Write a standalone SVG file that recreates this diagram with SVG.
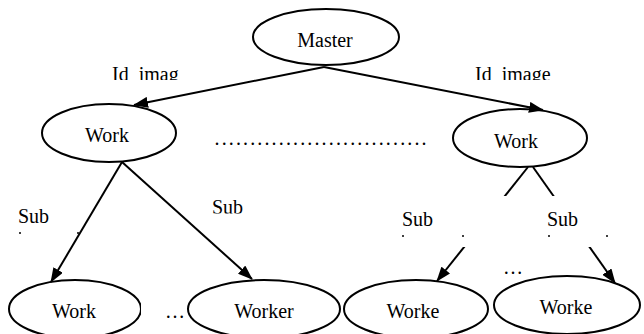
<svg xmlns="http://www.w3.org/2000/svg" width="644" height="334" viewBox="0 0 644 334" font-family="Liberation Serif, Times New Roman, serif">
<style>
.n{fill:none;stroke:#000;stroke-width:2}
.t{font-size:20px;fill:#000}
.c{stroke:#000;stroke-width:2;fill:none;marker-end:url(#ah)}
.w{fill:#fff;stroke:none}
</style>
<defs>
<marker id="ah" markerUnits="userSpaceOnUse" markerWidth="15" markerHeight="11" refX="14" refY="5.5" orient="auto">
<path d="M0,0 L15,5.5 L0,11 z" fill="#000"/>
</marker>
<clipPath id="clipTop"><rect x="0" y="55" width="644" height="25"/></clipPath>
<clipPath id="clipSubB"><rect x="0" y="190" width="644" height="23.5"/></clipPath>
<clipPath id="clipB1"><rect x="0" y="250" width="141" height="90"/></clipPath>
</defs>
<rect width="644" height="334" fill="#fff"/>
<g id="connectors">
<line class="c" x1="324" y1="67" x2="134" y2="105"/>
<line class="c" x1="324" y1="67" x2="543" y2="110"/>
<line class="c" x1="122" y1="162" x2="51" y2="282"/>
<line class="c" x1="122" y1="162" x2="252" y2="279"/>
<line class="c" x1="528" y1="167" x2="437" y2="281"/>
<line class="c" x1="533" y1="167" x2="615" y2="283"/>
</g>
<g id="labels">
<g id="label-id-imag"><text class="t" x="112" y="81" clip-path="url(#clipTop)">Id_imag</text></g>
<g id="label-id-image"><text class="t" x="475" y="81" clip-path="url(#clipTop)">Id_image</text></g>
<g id="label-sub-1"><text class="t" x="18" y="223">Sub</text><circle cx="20" cy="233" r="1"/><circle cx="78" cy="233" r="1"/></g>
<g id="label-sub-2"><text class="t" x="212" y="214" clip-path="url(#clipSubB)">Sub</text></g>
<g id="label-sub-3"><rect class="w" x="398" y="196" width="114" height="51"/><text class="t" x="402" y="226">Sub</text><circle cx="403" cy="236" r="1"/><circle cx="463" cy="236" r="1"/></g>
<g id="label-sub-4"><rect class="w" x="544" y="196" width="72" height="51"/><text class="t" x="547" y="226">Sub</text><circle cx="549" cy="236" r="1"/><circle cx="607" cy="236" r="1"/></g>
<g id="label-dotted"><text class="t" x="214.5" y="145" letter-spacing="2.14">..............................</text></g>
<g id="label-ellipsis-1"><text class="t" x="165" y="318">…</text></g>
<g id="label-ellipsis-2"><rect class="w" x="506" y="262" width="7" height="27"/><text class="t" x="503" y="274">…</text></g>
</g>
<g id="node-master"><ellipse class="n" cx="326" cy="37" rx="73" ry="28"/><text class="t" x="325" y="47" text-anchor="middle">Master</text></g>
<g id="node-work-left"><ellipse class="n" cx="109" cy="133" rx="67" ry="29"/><text class="t" x="107" y="142" text-anchor="middle">Work</text></g>
<g id="node-work-right"><ellipse class="n" cx="520" cy="138" rx="67" ry="29"/><text class="t" x="516" y="148" text-anchor="middle">Work</text></g>
<g id="node-b1"><ellipse class="n" cx="75" cy="309" rx="66" ry="29" clip-path="url(#clipB1)"/><text class="t" x="74" y="318" text-anchor="middle">Work</text></g>
<g id="node-b2"><ellipse class="n" cx="264" cy="309" rx="76" ry="29"/><text class="t" x="264" y="318" text-anchor="middle">Worker</text></g>
<g id="node-b3"><ellipse class="n" cx="416" cy="309" rx="72" ry="29"/><text class="t" x="413" y="318" text-anchor="middle">Worke</text></g>
<g id="node-b4"><ellipse class="n" cx="567" cy="305" rx="73" ry="29"/><text class="t" x="566" y="314" text-anchor="middle">Worke</text></g>
</svg>
